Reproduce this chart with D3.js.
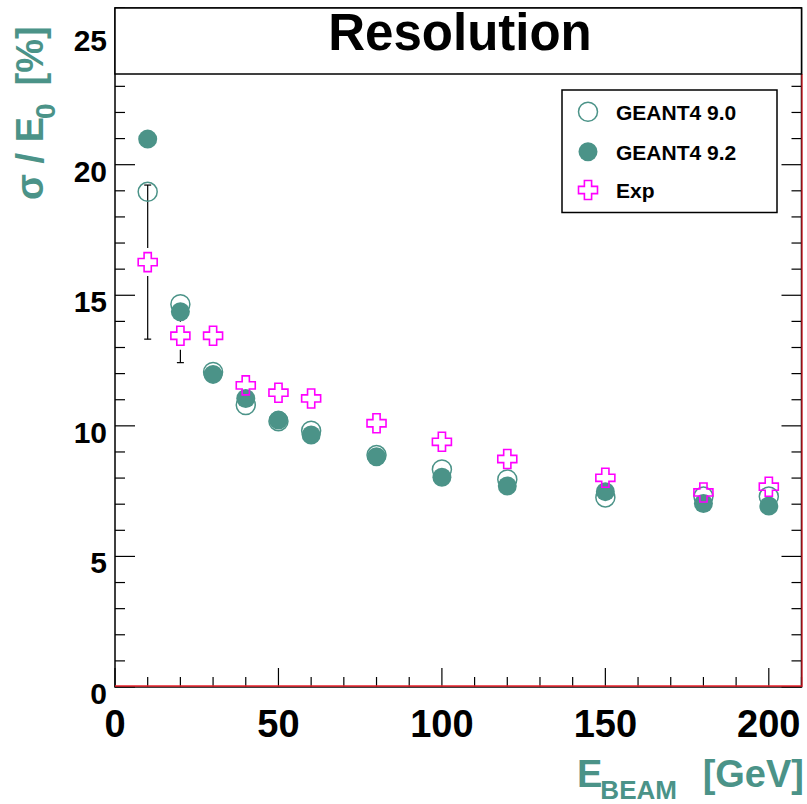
<!DOCTYPE html>
<html><head><meta charset="utf-8">
<script src="https://cdn.jsdelivr.net/npm/d3@7"></script>
<style>body{margin:0;background:#fff}svg{display:block}text{font-family:"Liberation Sans",Arial,Helvetica,sans-serif;font-weight:bold}</style>
</head><body>
<script>
// Data
const energies = [10, 20, 30, 40, 50, 60, 80, 100, 120, 150, 180, 200];
const g4_90 = [18.96, 14.66, 12.06, 10.80, 10.18, 9.81, 8.88, 8.33, 7.95, 7.26, 7.29, 7.29];
const g4_92 = [20.98, 14.37, 11.97, 11.05, 10.22, 9.65, 8.82, 8.03, 7.70, 7.48, 7.03, 6.93];
const expVals = [16.27, 13.45, 13.45, 11.55, 11.27, 11.05, 10.10, 9.39, 8.73, 8.01, 7.45, 7.67];
const expErr = [2.95, 1.03, 0.3, 0.3, 0.3, 0.3, 0.3, 0.3, 0.3, 0.3, 0.3, 0.3];
const xTicks = [0, 50, 100, 150, 200];
const yTicks = [0, 5, 10, 15, 20, 25];
const legendLabels = ["GEANT4 9.0", "GEANT4 9.2", "Exp"];
const titleText = "Resolution";

const W = 807, H = 804;
const L = 115, R = 801.5, T = 8, B = 687;
const teal = "#4b9388", mag = "#ff00ff";

const svg = d3.select("body").append("svg").attr("width", W).attr("height", H);
const x = d3.scaleLinear().domain([0, 210]).range([L, R]);
const y = d3.scaleLinear().domain([0, 26]).range([B, T]);

// ticks
const g = svg.append("g").attr("stroke", "#000").attr("stroke-width", 1.2);
d3.range(0, 211, 10).forEach(v => {
  const len = v % 50 === 0 ? 19 : 10;
  g.append("line").attr("x1", x(v)).attr("x2", x(v)).attr("y1", B).attr("y2", B - len);
});
d3.range(0, 27, 1).forEach(v => {
  const len = v % 5 === 0 ? 20 : 10;
  g.append("line").attr("x1", L).attr("x2", L + len).attr("y1", y(v)).attr("y2", y(v));
  g.append("line").attr("x1", R).attr("x2", R - len).attr("y1", y(v)).attr("y2", y(v));
});

// frame
svg.append("rect").attr("x", L).attr("y", T).attr("width", R - L).attr("height", B - T)
  .attr("fill", "none").attr("stroke", "#000").attr("stroke-width", 1.5);
// red lines
svg.append("line").attr("x1", L).attr("x2", R).attr("y1", y(0) - 1).attr("y2", y(0) - 1)
  .attr("stroke", "#e8202a").attr("stroke-width", 1.5);
svg.append("line").attr("x1", R + 0.5).attr("x2", R + 0.5).attr("y1", 74).attr("y2", B)
  .attr("stroke", "#e8202a").attr("stroke-width", 1.2);

// tick labels
svg.selectAll(".xl").data(xTicks).enter().append("text")
  .attr("x", d => x(d)).attr("y", 737).attr("text-anchor", "middle")
  .attr("font-size", 38).text(d => d);
svg.selectAll(".yl").data(yTicks).enter().append("text")
  .attr("x", 107).attr("y", d => y(d) + 17).attr("text-anchor", "end")
  .attr("font-size", 30).text(d => d);

// axis titles
const xt = svg.append("text").attr("x", 577).attr("y", 787).attr("fill", teal).attr("font-size", 38);
xt.append("tspan").text("E");
xt.append("tspan").attr("font-size", 26).attr("dy", 12).attr("dx", -2).text("BEAM");
svg.append("text").attr("x", 804).attr("y", 787).attr("text-anchor", "end").attr("fill", teal)
  .attr("font-size", 38).text("[GeV]");

const yt = svg.append("text").attr("transform", "translate(43,200) rotate(-90)")
  .attr("fill", teal).attr("font-size", 38);
yt.append("tspan").text("σ / E");
yt.append("tspan").attr("font-size", 28).attr("dy", 12).attr("dx", -2).text("0");
yt.append("tspan").attr("dy", -12).attr("dx", 18).text("[%]");

// error bars (Exp)
const gap = 14, cap = 3.5;
const eg = svg.append("g").attr("stroke", "#000").attr("stroke-width", 1.2);
energies.forEach((e, i) => {
  const cx = x(e), cy = y(expVals[i]);
  const yt2 = y(expVals[i] + expErr[i]), yb = y(expVals[i] - expErr[i]);
  if (cy - yt2 > gap) {
    eg.append("line").attr("x1", cx).attr("x2", cx).attr("y1", yt2).attr("y2", cy - gap);
    eg.append("line").attr("x1", cx - cap).attr("x2", cx + cap).attr("y1", yt2).attr("y2", yt2);
    eg.append("line").attr("x1", cx).attr("x2", cx).attr("y1", cy + gap).attr("y2", yb);
    eg.append("line").attr("x1", cx - cap).attr("x2", cx + cap).attr("y1", yb).attr("y2", yb);
  }
});

// markers
const rC = 9.5;
svg.selectAll(".o").data(energies).enter().append("circle")
  .attr("cx", d => x(d)).attr("cy", (d, i) => y(g4_90[i])).attr("r", rC)
  .attr("fill", "none").attr("stroke", teal).attr("stroke-width", 1.5);
svg.selectAll(".f").data(energies).enter().append("circle")
  .attr("cx", d => x(d)).attr("cy", (d, i) => y(g4_92[i])).attr("r", rC)
  .attr("fill", teal);

function crossPath(cx, cy) {
  const s = 9.5, a = 3.6;
  const pts = [[-a,-s],[a,-s],[a,-a],[s,-a],[s,a],[a,a],[a,s],[-a,s],[-a,a],[-s,a],[-s,-a],[-a,-a]];
  return "M" + pts.map(p => (cx + p[0]) + "," + (cy + p[1])).join("L") + "Z";
}
svg.selectAll(".c").data(energies).enter().append("path")
  .attr("d", (d, i) => crossPath(x(d), y(expVals[i])))
  .attr("fill", "none").attr("stroke", mag).attr("stroke-width", 1.6);

// title box
svg.append("rect").attr("x", L).attr("y", 8).attr("width", R - L).attr("height", 66)
  .attr("fill", "#fff").attr("stroke", "#000").attr("stroke-width", 1.5);
svg.append("text").attr("x", 460).attr("y", 50).attr("text-anchor", "middle")
  .attr("font-size", 51).text(titleText);

// legend
svg.append("rect").attr("x", 562).attr("y", 90).attr("width", 215).attr("height", 122.5)
  .attr("fill", "#fff").attr("stroke", "#000").attr("stroke-width", 1.5);
const ly = [111.7, 151.7, 190];
svg.append("circle").attr("cx", 588).attr("cy", ly[0]).attr("r", rC)
  .attr("fill", "none").attr("stroke", teal).attr("stroke-width", 1.5);
svg.append("circle").attr("cx", 588).attr("cy", ly[1]).attr("r", rC).attr("fill", teal);
svg.append("path").attr("d", crossPath(588, ly[2])).attr("fill", "none").attr("stroke", mag).attr("stroke-width", 1.6);
svg.selectAll(".lt").data(legendLabels).enter().append("text")
  .attr("x", 616).attr("y", (d, i) => ly[i] + 7.8).attr("font-size", 21).text(d => d);
</script>
</body></html>
